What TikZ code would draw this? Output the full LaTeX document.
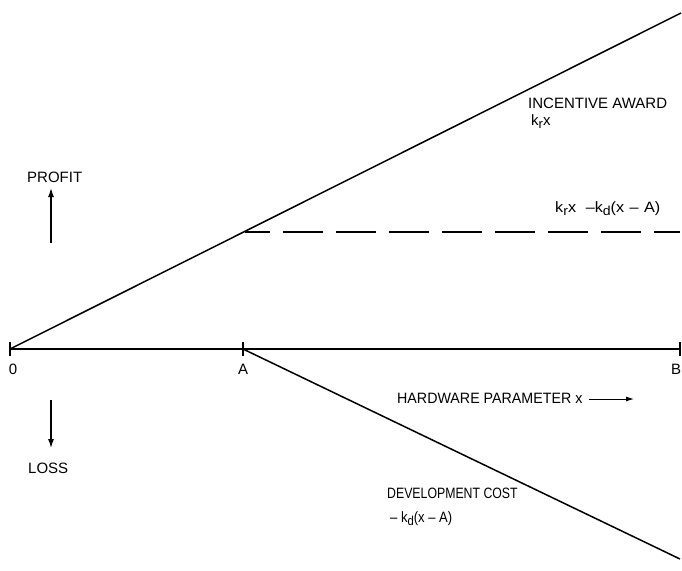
\documentclass[tikz,border=0pt]{standalone}
\usepackage{fontspec}
\setmainfont{Liberation Sans}
\usetikzlibrary{arrows.meta}
\newcommand{\lsub}[1]{\raisebox{-0.45ex}{\fontsize{13}{13}\selectfont #1}}
\begin{document}
\begin{tikzpicture}[x=1pt,y=-1pt,
  lbl/.style={font=\fontsize{15}{17}\selectfont, inner sep=0pt, anchor=base west},
  cline/.style={line width=1.5pt},
  axisline/.style={line width=1.2pt},
  arr/.style={line width=1.2pt,-{Latex[length=9pt,width=6pt]}},
  tickmark/.style={line width=1.2pt}]
\useasboundingbox (0,0) rectangle (682,570);
% axis points
\coordinate (O) at (10,349);
\coordinate (A) at (243,349);
\coordinate (B) at (680,349);
\coordinate (Iend) at (681,13);
\coordinate (Dstart) at (245,232);
\coordinate (Dend) at (680,232);
\coordinate (Cend) at (680,559);
\draw[axisline] (O) -- (A) -- (B);
\foreach \p in {O,A,B} \draw[tickmark] ([yshift=-7pt]\p) -- ([yshift=7pt]\p);
\draw[cline] (O) -- (Iend);
\draw[cline, dash pattern=on 40pt off 13pt, dash phase=15pt] (Dstart) -- (Dend);
\draw[cline] (A) -- (Cend);
% axis labels
\node[font=\fontsize{15}{17}\selectfont] (l0) at (13,369) {0};
\node[font=\fontsize{15}{17}\selectfont] (lA) at (243,369) {A};
\node[font=\fontsize{15}{17}\selectfont] (lB) at (676,369) {B};
% profit / loss
\node[lbl] (profit) at (27,182) {PROFIT};
\coordinate (pa1) at (51,243);
\coordinate (pa2) at (51,188);
\draw[arr] (pa1) -- (pa2);
\coordinate (la1) at (51,400);
\coordinate (la2) at (51,448);
\draw[arr] (la1) -- (la2);
\node[lbl] (loss) at (28,473) {LOSS};
% curve labels
\node[lbl] (inc) at (528,108) {INCENTIVE AWARD};
\node[lbl] (incf) at (531,125) {k\lsub{r}x};
\node[lbl, xscale=1.08] (net) at (555,212) {k\lsub{r}x\hspace{9pt}–k\lsub{d}(x\hspace{5pt}–\hspace{5pt}A)};
\node[lbl, xscale=0.95] (hw) at (397,403) {HARDWARE PARAMETER x};
\coordinate (hw1) at (589,399);
\coordinate (hw2) at (634,399);
\draw[line width=1pt,-{Latex[length=8pt,width=5pt]}] (hw1) -- (hw2);
\node[lbl, xscale=0.82] (dev) at (387,498) {DEVELOPMENT COST};
\node[lbl, xscale=0.87] (devf) at (390,522) {– k\lsub{d}(x – A)};
\end{tikzpicture}
\end{document}
